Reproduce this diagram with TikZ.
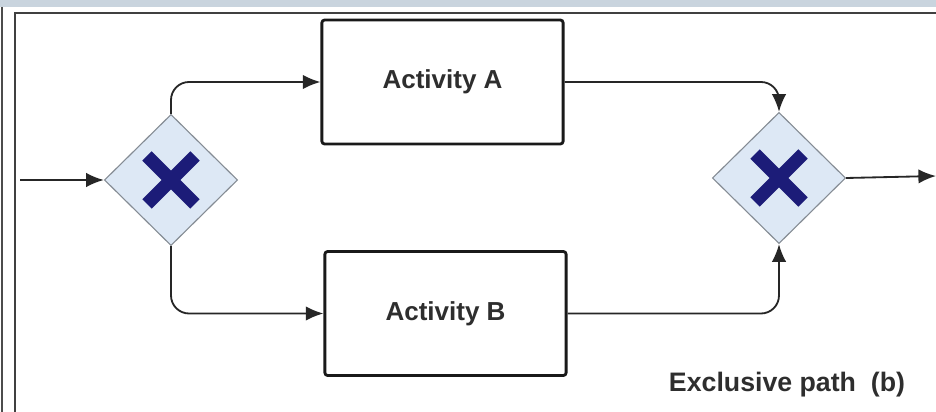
\documentclass[tikz,border=0pt]{standalone}
\usepackage{fontspec}
\setmainfont{Liberation Sans}
\usepackage{xcolor}
\usetikzlibrary{arrows.meta,positioning,shapes.geometric}

\definecolor{gwfill}{HTML}{DDE8F5}
\definecolor{gwline}{HTML}{858C94}
\definecolor{gwcross}{HTML}{1C1C78}
\definecolor{band}{HTML}{C9D4DE}
\definecolor{txt}{HTML}{2E2E2E}

\begin{document}
\begin{tikzpicture}[
    x=0.025cm, y=-0.025cm,
    gateway/.style={
      diamond, draw=gwline, line width=0.8pt, fill=gwfill,
      aspect=1, inner sep=0pt,
      minimum width=3.33cm, minimum height=3.28cm
    },
    task/.style={
      draw=black!90, line width=2pt, rounded corners=2pt,
      fill=white, minimum width=6.03cm, minimum height=3.1cm,
      align=center, text=txt,
      font=\fontsize{18.5}{22}\selectfont\bfseries
    },
    flow/.style={
      -{Latex[length=4.4mm,width=3.6mm]},
      line width=1.3pt, black!85, rounded corners=0.45cm
    }
  ]

    \useasboundingbox (0,0) rectangle (936,412);

    % Window frame
    \fill[band] (0,0) rectangle (936,7);
    \draw[black!70, line width=1.2pt] (2,7) -- (2,412);
    \draw[black!75, line width=1.2pt] (15,412) -- (15,13) -- (936,13);

    % Gateways
    \node[gateway] (split) at (171,180) {};
    \node[gateway] (join)  at (779,178) {};
    \foreach \g in {split,join}{
      \draw[gwcross, line width=0.33cm]
        ([shift={(-24,-24)}]\g.center) -- ([shift={(24,24)}]\g.center)
        ([shift={(-24,24)}]\g.center) -- ([shift={(24,-24)}]\g.center);
    }

    % Activities
    \node[task] (actA) at (442.5, 82) {Activity A};
    \node[task] (actB) at (445.5,313.5) {Activity B};

    % Free ends
    \coordinate (start) at (20,180);
    \coordinate (end)   at (936,176);

    % Arrows: into split
    \draw[flow] (start) -- (split.west);

    % split -> activities
    \draw[flow] (split.north) |- (actA.west);
    \draw[flow] (split.south) |- (actB.west);

    % activities -> join
    \draw[flow] (actA.east) -| (join.north);
    \draw[flow] (actB.east) -| (join.south);

    % join -> out
    \draw[flow] (join.east) -- (end);

    % Caption
    \node[text=txt, font=\fontsize{19}{22}\selectfont\bfseries, anchor=east]
      (caption) at (910,385) {Exclusive path\ \ (b)};

  \end{tikzpicture}
\end{document}
